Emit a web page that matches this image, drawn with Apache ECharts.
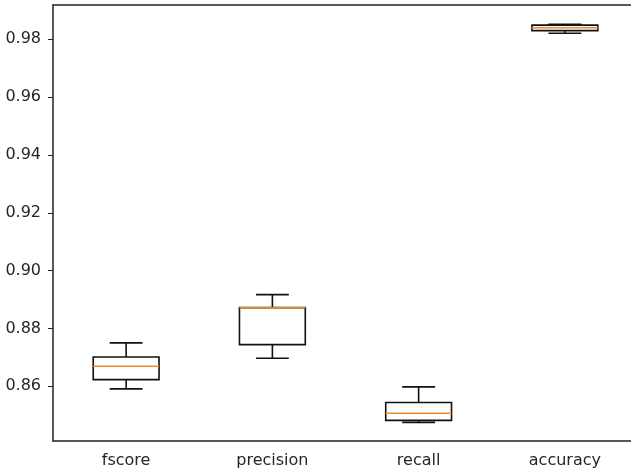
<!DOCTYPE html>
<html>
<head>
<meta charset="utf-8">
<script src="https://cdn.jsdelivr.net/npm/echarts@6/dist/echarts.min.js"></script>
<style>
html,body{margin:0;padding:0;background:#fff;overflow:hidden;}
#chart{width:631px;height:473px;}
</style>
</head>
<body>
<div id="chart"></div>
<script>
var categories = ['fscore', 'precision', 'recall', 'accuracy'];
var whiskerLow  = [0.8591, 0.8697, 0.8475, 0.9821];
var q1          = [0.8623, 0.8744, 0.8482, 0.9830];
var median      = [0.8669, 0.8872, 0.8507, 0.9840];
var q3          = [0.8701, 0.8872, 0.8544, 0.9849];
var whiskerHigh = [0.8750, 0.8917, 0.8598, 0.9852];
var yTicks = [0.86, 0.88, 0.90, 0.92, 0.94, 0.96, 0.98];

var boxData = categories.map(function (c, i) {
  return [i, whiskerLow[i], q1[i], median[i], q3[i], whiskerHigh[i]];
});

var chart = echarts.init(document.getElementById('chart'));
var font = 'DejaVu Sans';

function renderBox(params, api) {
  var idx = api.value(0);
  var pLow = api.coord([idx, api.value(1)]);
  var pQ1 = api.coord([idx, api.value(2)]);
  var pMed = api.coord([idx, api.value(3)]);
  var pQ3 = api.coord([idx, api.value(4)]);
  var pHigh = api.coord([idx, api.value(5)]);
  var band = api.size([1, 0])[0];
  var bw = band * 0.45;
  var cw = bw / 2;
  var x = pQ1[0];
  var blk = {stroke: '#111', lineWidth: 1.6, fill: null};
  return {
    type: 'group',
    children: [
      {type: 'line', shape: {x1: x, y1: pQ1[1], x2: x, y2: pLow[1]}, style: blk},
      {type: 'line', shape: {x1: x, y1: pQ3[1], x2: x, y2: pHigh[1]}, style: blk},
      {type: 'line', shape: {x1: x - cw / 2, y1: pLow[1], x2: x + cw / 2, y2: pLow[1]}, style: blk},
      {type: 'line', shape: {x1: x - cw / 2, y1: pHigh[1], x2: x + cw / 2, y2: pHigh[1]}, style: blk},
      {type: 'rect', shape: {x: x - bw / 2, y: pQ3[1], width: bw, height: pQ1[1] - pQ3[1]}, style: blk},
      {type: 'line', shape: {x1: x - bw / 2, y1: pMed[1], x2: x + bw / 2, y2: pMed[1]}, style: {stroke: '#f08a2c', lineWidth: 1.5}}
    ]
  };
}

chart.setOption({
  animation: false,
  backgroundColor: '#fff',
  grid: {
    left: 53, top: 5, width: 585, height: 436,
    outerBoundsMode: 'none',
    containLabel: false,
    show: false
  },
  xAxis: [{
    type: 'category',
    data: categories,
    boundaryGap: true,
    axisLine: {lineStyle: {color: '#222', width: 1.5}},
    axisTick: {alignWithLabel: true, length: 5, lineStyle: {color: '#222'}},
    axisLabel: {color: '#262626', fontFamily: font, fontSize: 16, margin: 12},
    splitLine: {show: false}
  }, {
    type: 'category',
    data: categories,
    position: 'top',
    boundaryGap: true,
    axisLine: {show: true, lineStyle: {color: '#222', width: 1.5}},
    axisTick: {show: false},
    axisLabel: {show: false},
    splitLine: {show: false}
  }],
  yAxis: {
    type: 'value',
    min: 0.84107,
    max: 0.99187,
    axisLine: {show: true, lineStyle: {color: '#222', width: 1.5}},
    axisTick: {show: true, length: 5, lineStyle: {color: '#222'}, customValues: yTicks},
    axisLabel: {
      color: '#262626', fontFamily: font, fontSize: 16, margin: 12,
      customValues: yTicks,
      formatter: function (v) { return v.toFixed(2); }
    },
    splitLine: {show: false}
  },
  series: [{
    type: 'custom',
    renderItem: renderBox,
    data: boxData,
    xAxisIndex: 0,
    encode: {x: 0, y: [1, 2, 3, 4, 5]}
  }]
});
</script>
</body>
</html>
